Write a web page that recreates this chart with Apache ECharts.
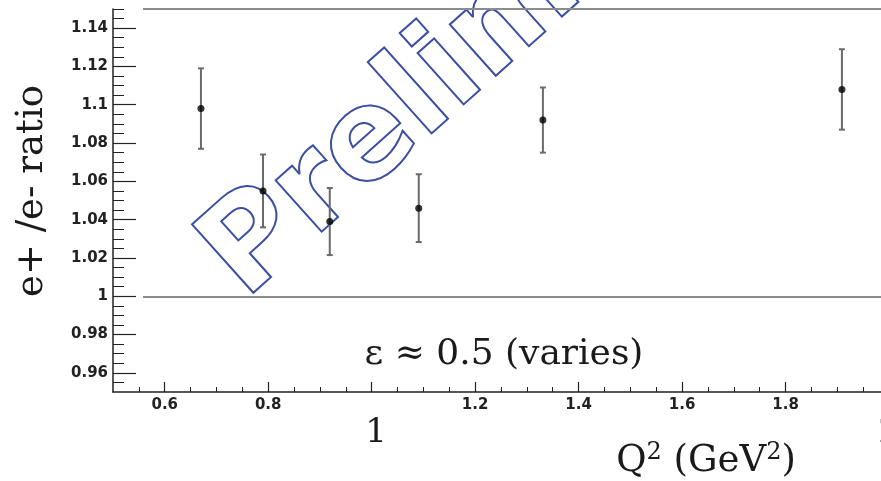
<!DOCTYPE html>
<html>
<head>
<meta charset="utf-8">
<script src="https://cdn.jsdelivr.net/npm/echarts@6/dist/echarts.min.js"></script>
<style>
  html, body { margin: 0; padding: 0; background: #fff; }
  #chart { width: 881px; height: 481px; }
</style>
</head>
<body>
<div id="chart"></div>
<script>
// Measured e+/e- cross-section ratio versus Q^2 at epsilon ~ 0.5
const q2 = [0.670, 0.790, 0.919, 1.091, 1.331, 1.909];
const ratio = [1.098, 1.055, 1.039, 1.046, 1.092, 1.108];
const ratioErr = [0.021, 0.019, 0.0175, 0.0177, 0.017, 0.021];

// Axis ranges, ticks and labels
const xRange = [0.5, 2.0];
const yRange = [0.95, 1.15];
const xMajorTicks = [0.6, 0.8, 1.0, 1.2, 1.4, 1.6, 1.8, 2.0];
const xTickLabels = [0.6, 0.8, 1.2, 1.4, 1.6, 1.8];
const xBigLabels = [1, 2];
const yMajorTicks = [0.96, 0.98, 1.0, 1.02, 1.04, 1.06, 1.08, 1.1, 1.12, 1.14];
const yTickLabels = yMajorTicks;

// Minor ticks: every 0.05 on x, every 0.005 on y
const xMinorTicks = [];
for (let i = 11; i <= 40; i++) xMinorTicks.push(+(i * 0.05).toFixed(2));
const yMinorTicks = [];
for (let i = 191; i <= 230; i++) yMinorTicks.push(+(i * 0.005).toFixed(3));

// Reference lines (unity and the top of the range)
const refLineStart = 0.558;
const refLines = [1.0, 1.15];

const points = q2.map((x, i) => [x, ratio[i], ratioErr[i]]);

const chart = echarts.init(document.getElementById('chart'), null, { renderer: 'canvas' });

const labelFont = { fontFamily: 'DejaVu Sans', fontWeight: 'bold', fontSize: 15, color: '#222' };
const serif = 'DejaVu Serif';

chart.setOption({
  animation: false,
  backgroundColor: '#ffffff',
  grid: { left: 113, right: -8, top: 9, bottom: 89, containLabel: false, outerBoundsMode: 'none' },
  xAxis: [
    {
      type: 'value', min: xRange[0], max: xRange[1], position: 'bottom',
      splitLine: { show: false },
      axisLine: { show: true, lineStyle: { color: '#222', width: 1.5 } },
      axisTick: { show: true, inside: true, length: 10, customValues: xMajorTicks, lineStyle: { color: '#222', width: 1.2 } },
      axisLabel: Object.assign({ show: true, margin: 6, customValues: xTickLabels, formatter: v => String(v) }, labelFont)
    },
    {
      type: 'value', min: xRange[0], max: xRange[1], position: 'bottom', offset: 0,
      splitLine: { show: false },
      axisLine: { show: false },
      axisTick: { show: true, inside: true, length: 5, customValues: xMinorTicks, lineStyle: { color: '#222', width: 1 } },
      axisLabel: { show: false }
    },
    {
      type: 'value', min: xRange[0], max: xRange[1], position: 'bottom', offset: 0,
      splitLine: { show: false },
      axisLine: { show: false },
      axisTick: { show: false },
      axisLabel: {
        show: true, margin: 24, customValues: xBigLabels,
        formatter: v => (v === 1 ? '{p|1}' : '{q|' + v + '}'),
        rich: {
          p: { fontFamily: serif, fontSize: 34, color: '#1a1a1a', padding: [0, 0, 0, 9] },
          q: { fontFamily: serif, fontSize: 34, color: '#1a1a1a' }
        }
      }
    }
  ],
  yAxis: [
    {
      type: 'value', min: yRange[0], max: yRange[1], position: 'left',
      splitLine: { show: false },
      axisLine: { show: true, lineStyle: { color: '#222', width: 1.5 } },
      axisTick: { show: true, inside: true, length: 23, customValues: yMajorTicks, lineStyle: { color: '#222', width: 1.2 } },
      axisLabel: Object.assign({ show: true, margin: 5, customValues: yTickLabels, formatter: v => String(v) }, labelFont)
    },
    {
      type: 'value', min: yRange[0], max: yRange[1], position: 'left', offset: 0,
      splitLine: { show: false },
      axisLine: { show: false },
      axisTick: { show: true, inside: true, length: 11, customValues: yMinorTicks, lineStyle: { color: '#222', width: 1 } },
      axisLabel: { show: false }
    }
  ],
  graphic: [
    {
      type: 'text', z: 1, x: 223, y: 276, rotation: 0.73,
      style: {
        text: 'Preliminary', fontFamily: 'DejaVu Sans', fontWeight: 'bold', fontSize: 126,
        fill: 'rgba(255,255,255,0)', stroke: '#3b4fa3', lineWidth: 2, lineJoin: 'round',
        align: 'left', verticalAlign: 'middle',
        shadowColor: 'rgba(0,0,0,0.25)', shadowBlur: 3, shadowOffsetX: 1.5, shadowOffsetY: 1.5
      }
    },
    {
      type: 'text', z: 10, x: 32, y: 191, rotation: Math.PI / 2,
      style: { text: 'e+ /e- ratio', fontFamily: serif, fontSize: 37, fill: '#1a1a1a', align: 'center', verticalAlign: 'middle' }
    },
    {
      type: 'text', z: 10, x: 504, y: 355,
      style: { text: 'ε ≈ 0.5 (varies)', fontFamily: serif, fontSize: 36, fill: '#1a1a1a', align: 'center', verticalAlign: 'middle' }
    },
    {
      type: 'text', z: 10, x: 706, y: 461,
      style: {
        text: '{a|Q}{s|2}{a| (GeV}{s|2}{a|)}', align: 'center', verticalAlign: 'middle',
        rich: {
          a: { fontFamily: serif, fontSize: 37, fill: '#1a1a1a', color: '#1a1a1a', lineHeight: 44 },
          s: { fontFamily: serif, fontSize: 24, fill: '#1a1a1a', color: '#1a1a1a', lineHeight: 44, verticalAlign: 'top', padding: [2, 0, 0, 0] }
        }
      }
    }
  ],
  series: [
    {
      type: 'custom', xAxisIndex: 0, yAxisIndex: 0, z: 3,
      data: points,
      renderItem: function (params, api) {
        const x = api.value(0), y = api.value(1), e = api.value(2);
        const top = api.coord([x, y + e]);
        const bot = api.coord([x, y - e]);
        const cap = 3;
        const style = { stroke: '#6a6a6a', lineWidth: 2 };
        return {
          type: 'group',
          children: [
            { type: 'line', shape: { x1: top[0], y1: top[1], x2: bot[0], y2: bot[1] }, style: style },
            { type: 'line', shape: { x1: top[0] - cap, y1: top[1], x2: top[0] + cap, y2: top[1] }, style: style },
            { type: 'line', shape: { x1: bot[0] - cap, y1: bot[1], x2: bot[0] + cap, y2: bot[1] }, style: style }
          ]
        };
      }
    },
    {
      type: 'scatter', xAxisIndex: 0, yAxisIndex: 0, z: 4,
      data: points.map(p => [p[0], p[1]]),
      symbol: 'circle', symbolSize: 7,
      itemStyle: { color: '#000' },
      markLine: {
        silent: true, symbol: 'none', label: { show: false },
        lineStyle: { type: 'solid', color: '#8c8c8c', width: 2 },
        data: refLines.map(v => [{ coord: [refLineStart, v] }, { coord: [xRange[1], v] }])
      }
    }
  ]
});
</script>
</body>
</html>
